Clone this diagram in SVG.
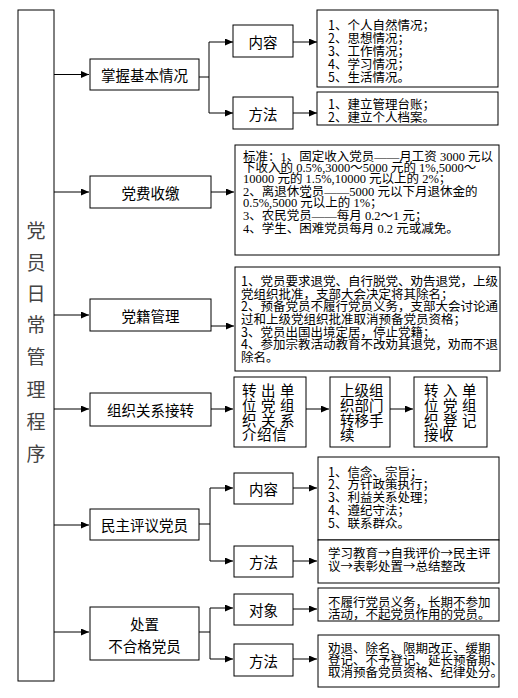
<svg xmlns="http://www.w3.org/2000/svg" width="518" height="698" viewBox="0 0 518 698">
<style>
.b{fill:#fff;stroke:#000;stroke-width:1}
.l{fill:none;stroke:#000;stroke-width:1}
.a{fill:none;stroke:#000;stroke-width:1;marker-end:url(#ar)}
text{font-family:"Noto Sans CJK SC","Noto Sans CJK JP",sans-serif;fill:#000;dominant-baseline:central}
.m{font-size:14.5px;text-anchor:middle}
.s{font-size:12.5px}
.f{font-size:12.5px;font-family:"Liberation Serif","Noto Sans CJK SC",serif}
.v{font-size:19px;text-anchor:middle;fill:#444}
.t{font-size:14.5px}
</style>
<defs>
<marker id="ar" markerWidth="9" markerHeight="7" refX="8" refY="3.5" orient="auto" markerUnits="userSpaceOnUse"><path d="M0,0 L8,3.5 L0,7 z" fill="#000"/></marker>
</defs>
<g id="connectors">
<path class="a" d="M54,74.5 H89"/>
<path class="a" d="M54,192 H89"/>
<path class="a" d="M54,315 H89"/>
<path class="a" d="M54,409 H89"/>
<path class="a" d="M54,525 H89"/>
<path class="a" d="M54,632 H89"/>
<path class="l" d="M199,77 H209 M209,42 V113"/>
<path class="a" d="M209,42 H233"/>
<path class="a" d="M209,113 H233"/>
<path class="a" d="M293,42 H317"/>
<path class="a" d="M293,113 H317"/>
<path class="a" d="M211,192 H234"/>
<path class="a" d="M211,326 H234"/>
<path class="a" d="M211,409 H233"/>
<path class="a" d="M306,409 H329"/>
<path class="a" d="M390,409 H413"/>
<path class="l" d="M199,524 H210 M210,488 V561"/>
<path class="a" d="M210,488 H233"/>
<path class="a" d="M210,561 H233"/>
<path class="a" d="M293,488 H317"/>
<path class="a" d="M293,561 H317"/>
<path class="l" d="M199,632 H210 M210,608 V659"/>
<path class="a" d="M210,608 H233"/>
<path class="a" d="M210,659 H233"/>
<path class="a" d="M293,609 H317"/>
<path class="a" d="M293,659 H317"/>
</g>
<g id="root">
<rect class="b" x="18" y="10" width="36" height="671"/>
<text class="v" x="36" y="229">党</text>
<text class="v" x="36" y="261">员</text>
<text class="v" x="36" y="292">日</text>
<text class="v" x="36" y="323">常</text>
<text class="v" x="36" y="355">管</text>
<text class="v" x="36" y="388">理</text>
<text class="v" x="36" y="420">程</text>
<text class="v" x="36" y="452">序</text>
</g>
<g id="n1">
<rect class="b" x="90" y="59" width="109" height="31"/>
<text class="m" x="144.5" y="74.5">掌握基本情况</text>
</g>
<g id="n1a">
<rect class="b" x="233" y="25" width="60" height="32"/>
<text class="m" x="263" y="41">内容</text>
</g>
<g id="n1b">
<rect class="b" x="233" y="97" width="60" height="32"/>
<text class="m" x="263" y="113">方法</text>
</g>
<g id="n1a-c">
<rect class="b" x="317" y="10" width="181" height="77"/>
<text class="s"><tspan x="328" y="24">1、个人自然情况；</tspan><tspan x="328" y="37">2、思想情况；</tspan><tspan x="328" y="50">3、工作情况；</tspan><tspan x="328" y="63">4、学习情况；</tspan><tspan x="328" y="76">5、生活情况。</tspan></text>
</g>
<g id="n1b-c">
<rect class="b" x="317" y="92" width="181" height="33"/>
<text class="s"><tspan x="328" y="102.5">1、建立管理台账；</tspan><tspan x="328" y="115.5">2、建立个人档案。</tspan></text>
</g>
<g id="n2">
<rect class="b" x="90" y="176" width="121" height="32"/>
<text class="m" x="150.5" y="192">党费收缴</text>
</g>
<g id="n2-c">
<rect class="b" x="235" y="145" width="264" height="110"/>
<text class="f"><tspan x="243" y="156.7">标准：1、固定收入党员——月工资 3000 元以</tspan><tspan x="243" y="167.5">下收入的 0.5%,3000～5000 元的 1%,5000～</tspan><tspan x="243" y="179">10000 元的 1.5%,10000 元以上的 2%；</tspan><tspan x="243" y="191.7">2、离退休党员——5000 元以下月退休金的</tspan><tspan x="243" y="203.3">0.5%,5000 元以上的 1%；</tspan><tspan x="243" y="216">3、农民党员——每月 0.2～1 元；</tspan><tspan x="243" y="229.3">4、学生、困难党员每月 0.2 元或减免。</tspan></text>
</g>
<g id="n3">
<rect class="b" x="90" y="299" width="121" height="32"/>
<text class="m" x="150.5" y="315">党籍管理</text>
</g>
<g id="n3-c">
<rect class="b" x="235" y="267" width="265" height="104"/>
<text class="s"><tspan x="241" y="280">1、党员要求退党、自行脱党、劝告退党，上级</tspan><tspan x="241" y="292.5">党组织批准，支部大会决定将其除名；</tspan><tspan x="241" y="305">2、预备党员不履行党员义务，支部大会讨论通</tspan><tspan x="241" y="317.5">过和上级党组织批准取消预备党员资格；</tspan><tspan x="241" y="330.5">3、党员出国出境定居，停止党籍；</tspan><tspan x="241" y="343">4、参加宗教活动教育不改劝其退党，劝而不退</tspan><tspan x="241" y="356">除名。</tspan></text>
</g>
<g id="n4">
<rect class="b" x="90" y="393" width="121" height="33"/>
<text class="m" x="150.5" y="409.5">组织关系接转</text>
</g>
<g id="n4a">
<rect class="b" x="234" y="377" width="72" height="70"/>
<text class="t" letter-spacing="0.6"><tspan x="242" y="389">转 出 单</tspan><tspan x="242" y="404">位 党 组</tspan><tspan x="242" y="419">织 关 系</tspan><tspan x="242" y="433">介绍信</tspan></text>
</g>
<g id="n4b">
<rect class="b" x="330" y="377" width="60" height="70"/>
<text class="t"><tspan x="340" y="389">上级组</tspan><tspan x="340" y="404">织部门</tspan><tspan x="340" y="419">转移手</tspan><tspan x="340" y="433">续</tspan></text>
</g>
<g id="n4c">
<rect class="b" x="414" y="377" width="73" height="70"/>
<text class="t" letter-spacing="0.6"><tspan x="424" y="389">转 入 单</tspan><tspan x="424" y="404">位 党 组</tspan><tspan x="424" y="419">织 登 记</tspan><tspan x="424" y="433">接收</tspan></text>
</g>
<g id="n5">
<rect class="b" x="90" y="509" width="109" height="31"/>
<text class="m" x="144.5" y="524.5">民主评议党员</text>
</g>
<g id="n5a">
<rect class="b" x="234" y="473" width="59" height="31"/>
<text class="m" x="263.5" y="488.5">内容</text>
</g>
<g id="n5b">
<rect class="b" x="234" y="546" width="59" height="31"/>
<text class="m" x="263.5" y="561.5">方法</text>
</g>
<g id="n5a-c">
<rect class="b" x="318" y="457" width="181" height="83"/>
<text class="s"><tspan x="328" y="471">1、信念、宗旨；</tspan><tspan x="328" y="483">2、方针政策执行；</tspan><tspan x="328" y="495.5">3、利益关系处理；</tspan><tspan x="328" y="509">4、遵纪守法；</tspan><tspan x="328" y="521.5">5、联系群众。</tspan></text>
</g>
<g id="n5b-c">
<rect class="b" x="318" y="540" width="181" height="43"/>
<text class="s"><tspan x="328" y="552">学习教育→自我评价→民主评</tspan><tspan x="328" y="565">议→表彰处置→总结整改</tspan></text>
</g>
<g id="n6">
<rect class="b" x="90" y="607" width="109" height="53"/>
<text class="m"><tspan x="144.5" y="623">处置</tspan><tspan x="144.5" y="645">不合格党员</tspan></text>
</g>
<g id="n6a">
<rect class="b" x="234" y="594" width="59" height="31"/>
<text class="m" x="263.5" y="609.5">对象</text>
</g>
<g id="n6b">
<rect class="b" x="234" y="644" width="59" height="32"/>
<text class="m" x="263.5" y="660">方法</text>
</g>
<g id="n6a-c">
<rect class="b" x="318" y="588" width="181" height="33"/>
<text class="s"><tspan x="328" y="601">不履行党员义务，长期不参加</tspan><tspan x="328" y="613">活动，不起党员作用的党员。</tspan></text>
</g>
<g id="n6b-c">
<rect class="b" x="318" y="635" width="181" height="52"/>
<text class="s"><tspan x="328" y="647">劝退、除名、限期改正、缓期</tspan><tspan x="328" y="659">登记、不予登记、延长预备期、</tspan><tspan x="328" y="671">取消预备党员资格、纪律处分。</tspan></text>
</g>
</svg>
